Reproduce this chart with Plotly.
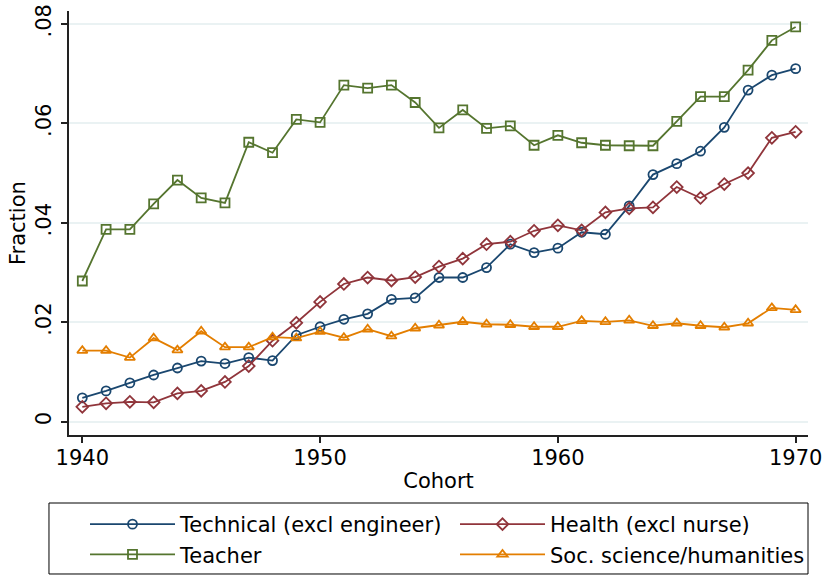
import plotly.graph_objects as go

years = list(range(1940, 1971))

technical = [0.0048, 0.0062, 0.0078, 0.0094, 0.0108, 0.0122, 0.0117, 0.0129, 0.0123, 0.0174, 0.0191,
             0.0206, 0.0217, 0.0246, 0.0249, 0.0290, 0.0290, 0.0310, 0.0357, 0.0340, 0.0349,
             0.0381, 0.0377, 0.0434, 0.0497, 0.0519, 0.0544, 0.0592, 0.0667, 0.0697, 0.0710]
health = [0.0030, 0.0037, 0.0040, 0.0039, 0.0057, 0.0062, 0.0080, 0.0112, 0.0163, 0.0199, 0.0241,
          0.0277, 0.0290, 0.0284, 0.0291, 0.0312, 0.0328, 0.0357, 0.0362, 0.0384, 0.0395,
          0.0385, 0.0421, 0.0429, 0.0431, 0.0472, 0.0450, 0.0478, 0.0500, 0.0571, 0.0583]
teacher = [0.0283, 0.0387, 0.0387, 0.0438, 0.0486, 0.0450, 0.0440, 0.0562, 0.0541, 0.0608, 0.0602,
           0.0677, 0.0671, 0.0677, 0.0642, 0.0591, 0.0627, 0.0590, 0.0595, 0.0556, 0.0576,
           0.0561, 0.0556, 0.0555, 0.0555, 0.0604, 0.0654, 0.0654, 0.0707, 0.0767, 0.0794]
socsci = [0.0143, 0.0143, 0.0129, 0.0168, 0.0144, 0.0182, 0.0150, 0.0150, 0.0170, 0.0168, 0.0181,
          0.0169, 0.0186, 0.0172, 0.0188, 0.0194, 0.0201, 0.0196, 0.0195, 0.0191, 0.0191,
          0.0203, 0.0201, 0.0204, 0.0193, 0.0198, 0.0193, 0.0190, 0.0198, 0.0229, 0.0225]

names = ["Technical (excl engineer)", "Health (excl nurse)", "Teacher", "Soc. science/humanities"]
series = [technical, health, teacher, socsci]
colors = ["#1a476f", "#90353b", "#55752f", "#e37e00"]
symbols = ["circle-open", "diamond-open", "square-open", "triangle-up-open"]
legend_ids = ["legend", "legend2", "legend", "legend2"]

y_ticks = [0, 0.02, 0.04, 0.06, 0.08]
y_tick_labels = ["0", ".02", ".04", ".06", ".08"]
x_ticks = [1940, 1950, 1960, 1970]
y_title = "Fraction"
x_title = "Cohort"

FONT = "DejaVu Sans, sans-serif"
W, H = 826, 575

fig = go.Figure()
for name, vals, col, sym, lg in zip(names, series, colors, symbols, legend_ids):
    fig.add_trace(go.Scatter(
        x=years, y=vals, name=name, mode="lines+markers", legend=lg,
        line=dict(color=col, width=1.8),
        marker=dict(symbol=sym, size=9, color=col, line=dict(color=col, width=1.8)),
    ))

# legend frame
fig.add_shape(type="rect", xref="paper", yref="paper",
              x0=-0.0271, x1=1.0, y0=-0.3278, y1=-0.1604,
              line=dict(color="black", width=1), fillcolor="rgba(0,0,0,0)", layer="above")

# y-axis title
fig.add_annotation(text=y_title, xref="paper", yref="paper", x=-0.069, y=0.5,
                   xanchor="center", yanchor="middle", textangle=-90, showarrow=False,
                   font=dict(family=FONT, size=21, color="black"))

leg_common = dict(
    orientation="v", xref="container", yref="container",
    xanchor="left", yanchor="top", itemwidth=85,
    borderwidth=0, bgcolor="rgba(0,0,0,0)", font=dict(family=FONT, size=21),
    traceorder="normal", tracegroupgap=0,
)

fig.update_layout(
    width=W, height=H,
    margin=dict(l=69, r=18, t=11, b=140, autoexpand=False),
    paper_bgcolor="white", plot_bgcolor="white",
    font=dict(family=FONT, size=21, color="black"),
    showlegend=True,
    legend=dict(x=85 / W, y=1 - 504 / H, **leg_common),
    legend2=dict(x=455 / W, y=1 - 504 / H, **leg_common),
    xaxis=dict(
        range=[1939.44, 1970.52], tickvals=x_ticks, showgrid=False, zeroline=False,
        showline=True, linecolor="#222", linewidth=1.5, ticks="outside", ticklen=6,
        tickcolor="#222", tickwidth=1.5, tickfont=dict(size=21),
        ticklabelstandoff=-3,
        title=dict(text=x_title, font=dict(size=21), standoff=4),
    ),
    yaxis=dict(
        range=[-0.00267, 0.0826], tickvals=y_ticks, ticktext=y_tick_labels,
        showgrid=True, gridcolor="#eaf2f3", gridwidth=1.5, zeroline=False,
        showline=True, linecolor="#222", linewidth=1.5, ticks="outside", ticklen=6,
        tickcolor="#222", tickwidth=1.5, tickangle=-90, tickfont=dict(size=21),
        ticklabelstandoff=2,
    ),
)

fig.write_html("out.html", post_script="document.body.style.margin='0';",
               config={"displayModeBar": False})
